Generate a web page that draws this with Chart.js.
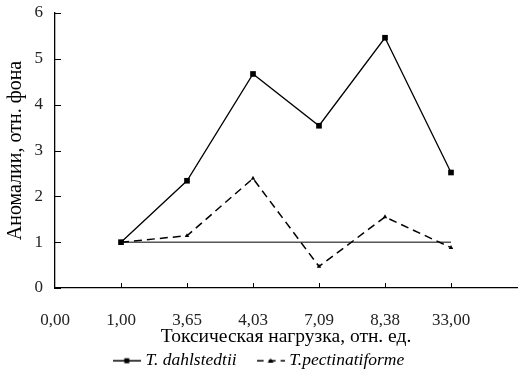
<!DOCTYPE html>
<html>
<head>
<meta charset="utf-8">
<script src="https://cdn.jsdelivr.net/npm/chart.js@4.4.0/dist/chart.umd.min.js"></script>
<style>
  body { margin: 0; background: #fff; }
  #wrap { width: 521px; height: 371px; }
</style>
</head>
<body>
<div id="wrap"><canvas id="chart" width="521" height="371"></canvas></div>
<script>
const loadLabels = ['0,00', '1,00', '3,65', '4,03', '7,09', '8,38', '33,00', ''];
const dahlstedtii = [null, 1, 2.34, 4.67, 3.54, 5.46, 2.52, null];
const pectinatiforme = [null, 1, 1.14, 2.39, 0.47, 1.55, 0.88, null];
const baseline = [null, 1, 1, 1, 1, 1, 1, null];
const seriesNames = ['T. dahlstedtii', 'T.pectinatiforme'];
const yTicks = [0, 1, 2, 3, 4, 5, 6];

const serif = "'Liberation Serif', 'Times New Roman', serif";

// small legend glyphs: line with the marker in the middle
function legendSymbol(dashed) {
  const c = document.createElement('canvas');
  c.width = 28;
  c.height = 8;
  const g = c.getContext('2d');
  g.strokeStyle = '#000';
  g.fillStyle = '#000';
  g.lineWidth = 1.5;
  if (dashed) g.setLineDash([7, 5]);
  g.beginPath();
  g.moveTo(0, 4);
  g.lineTo(28, 4);
  g.stroke();
  if (dashed) {
    g.beginPath();
    g.moveTo(14, 1.5);
    g.lineTo(17, 6);
    g.lineTo(11, 6);
    g.closePath();
    g.fill();
  } else {
    g.fillRect(11.5, 1.5, 5, 5);
  }
  return c;
}

const symbols = [legendSymbol(false), legendSymbol(true)];

// tick marks pointing into the plot, like the original
const innerTicks = {
  id: 'innerTicks',
  afterDraw(ch) {
    const ctx = ch.ctx;
    const xs = ch.scales.x, ys = ch.scales.y;
    ctx.save();
    ctx.strokeStyle = '#000';
    ctx.lineWidth = 1;
    ctx.beginPath();
    for (let i = 1; i < xs.ticks.length - 1; i++) {
      const px = Math.round(xs.getPixelForTick(i)) + 0.5;
      ctx.moveTo(px, ys.bottom);
      ctx.lineTo(px, ys.bottom - 5);
    }
    ys.ticks.forEach((t, i) => {
      const py = Math.round(ys.getPixelForTick(i)) + 0.5;
      ctx.moveTo(xs.left, py);
      ctx.lineTo(xs.left + 6, py);
    });
    ctx.stroke();
    ctx.restore();
  }
};

function noPad(s) {
  s.paddingTop = 0;
  s.paddingBottom = 0;
  s.paddingLeft = 0;
  s.paddingRight = 0;
}

const chart = new Chart(document.getElementById('chart'), {
  type: 'line',
  data: {
    labels: loadLabels,
    datasets: [
      {
        label: seriesNames[0],
        data: dahlstedtii,
        borderColor: '#000',
        backgroundColor: '#000',
        borderWidth: 1.3,
        pointStyle: 'rect',
        pointRadius: 4,
        pointBorderWidth: 0,
        fill: false
      },
      {
        label: seriesNames[1],
        data: pectinatiforme,
        borderColor: '#000',
        backgroundColor: '#000',
        borderWidth: 1.5,
        borderDash: [8, 5],
        pointStyle: 'triangle',
        pointRadius: 2.6,
        pointBorderWidth: 0,
        fill: false
      },
      {
        label: 'фон',
        data: baseline,
        borderColor: '#000',
        borderWidth: 1,
        pointRadius: 0,
        fill: false
      }
    ]
  },
  options: {
    responsive: false,
    animation: false,
    layout: { padding: { top: 13, left: 0, right: 0, bottom: 0 } },
    scales: {
      x: {
        type: 'category',
        offset: false,
        grid: { display: false, drawTicks: false, tickLength: 0 },
        border: { display: true, color: '#000', width: 1.3 },
        ticks: {
          color: '#222',
          padding: 22,
          maxRotation: 0,
          autoSkip: false,
          font: { family: serif, size: 17 }
        },
        title: {
          display: true,
          text: 'Токсическая нагрузка, отн. ед.',
          color: '#000',
          padding: { top: 0, bottom: -21 },
          font: { family: serif, size: 19.5 }
        },
        afterFit: s => { s.height = 40; noPad(s); }
      },
      y: {
        min: 0,
        max: 6,
        afterBuildTicks: s => { s.ticks = yTicks.map(v => ({ value: v })); },
        grid: { display: false, drawTicks: false, tickLength: 0 },
        border: { display: true, color: '#000', width: 1.3 },
        ticks: {
          color: '#222',
          padding: 12,
          font: { family: serif, size: 17 }
        },
        title: {
          display: true,
          text: 'Аномалии, отн. фона',
          color: '#000',
          padding: { top: 3.5, bottom: 0 },
          font: { family: serif, size: 20 }
        },
        afterFit: s => { s.width = 55; noPad(s); }
      }
    },
    plugins: {
      legend: {
        display: true,
        position: 'bottom',
        maxHeight: 43,
        labels: {
          usePointStyle: true,
          pointStyleWidth: 20,
          padding: 24,
          color: '#000',
          font: { family: serif, size: 17.5, style: 'italic' },
          generateLabels: ch => seriesNames.map((name, i) => ({
            text: name,
            fontColor: '#000',
            pointStyle: symbols[i],
            datasetIndex: i,
            hidden: false,
            lineWidth: 0,
            strokeStyle: '#000',
            fillStyle: '#000'
          }))
        }
      },
      tooltip: { enabled: false }
    }
  },
  plugins: [innerTicks]
});
</script>
</body>
</html>
